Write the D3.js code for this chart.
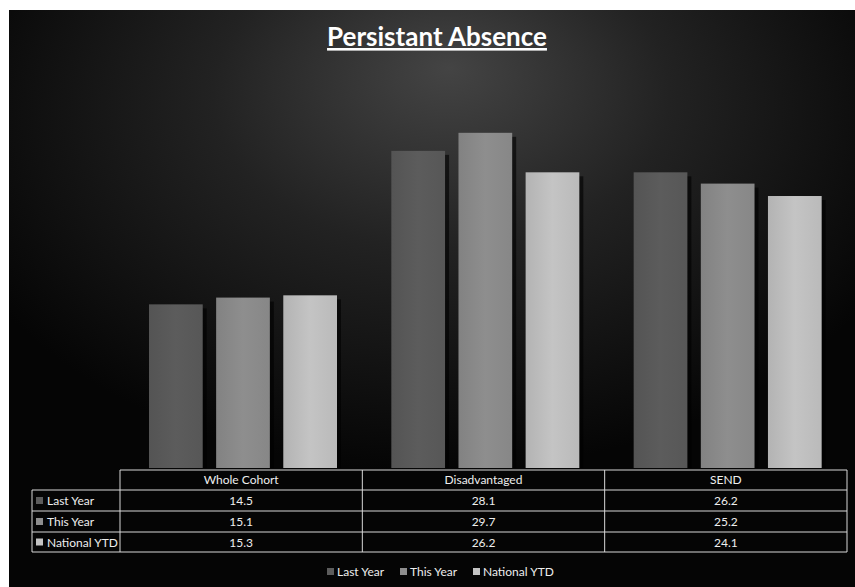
<!DOCTYPE html>
<html>
<head>
<meta charset="utf-8">
<script src="https://cdn.jsdelivr.net/npm/d3@7"></script>
<style>
  html, body { margin: 0; padding: 0; background: #fff; }
  svg { display: block; }
  text { font-family: Lato, "DejaVu Sans", sans-serif; }
</style>
</head>
<body>
<div id="chart"></div>
<script>
// chart data
var categories = ['Whole Cohort', 'Disadvantaged', 'SEND'];
var series = ['Last Year', 'This Year', 'National YTD'];
var lastYear = [14.5, 28.1, 26.2];
var thisYear = [15.1, 29.7, 25.2];
var nationalYTD = [15.3, 26.2, 24.1];
var yMax = 35;

var values = [lastYear, thisYear, nationalYTD];
var colors = ['#5c5c5c', '#8e8e8e', '#c4c4c4'];

var w = 855, h = 587;
var frame = {left: 9, top: 10};
var plot = {left: 121, right: 848, top: 73, bottom: 468};
var table = {left: 32, colLeft: 120, right: 847, top: 470, rowH: [20, 21, 21, 20]};

var svg = d3.select('#chart')
	.append('svg')
	.attr('width', w)
	.attr('height', h);

var defs = svg.append('defs');

// soft grey glow behind the title
var glow = defs.append('radialGradient')
	.attr('id', 'glow')
	.attr('cx', '50%').attr('cy', '20%')
	.attr('r', '60%')
	.attr('fx', '52%').attr('fy', '10%');
glow.append('stop').attr('offset', '0%').attr('stop-color', '#444');
glow.append('stop').attr('offset', '45%').attr('stop-color', '#222');
glow.append('stop').attr('offset', '100%').attr('stop-color', '#050505');

colors.forEach(function(c, i) {
	var g = defs.append('linearGradient')
		.attr('id', 'bar' + i)
		.attr('x1', '0%').attr('x2', '100%')
		.attr('y1', '0%').attr('y2', '0%');
	g.append('stop').attr('offset', '0%').attr('stop-color', d3.color(c).darker(0.25));
	g.append('stop').attr('offset', '50%').attr('stop-color', c);
	g.append('stop').attr('offset', '100%').attr('stop-color', d3.color(c).darker(0.15));
});

svg.append('rect')
	.attr('x', frame.left)
	.attr('y', frame.top)
	.attr('width', w - frame.left)
	.attr('height', h - frame.top)
	.attr('fill', '#000');

svg.append('rect')
	.attr('x', frame.left)
	.attr('y', frame.top)
	.attr('width', w - frame.left)
	.attr('height', h - frame.top)
	.attr('fill', 'url(#glow)');

// title
svg.append('text')
	.attr('x', 437)
	.attr('y', 46)
	.attr('text-anchor', 'middle')
	.attr('fill', '#fff')
	.style('font-size', '26px')
	.style('font-weight', 'bold')
	.style('text-decoration', 'underline')
	.text('Persistant Absence');

var x0 = d3.scaleBand()
	.domain(categories)
	.range([plot.left, plot.right]);

var x1 = d3.scaleBand()
	.domain(series)
	.range([28, 216])
	.paddingInner(0.2);

var y = d3.scaleLinear()
	.domain([0, yMax])
	.range([plot.bottom, plot.top]);

var rows = [];
series.forEach(function(s, i) {
	categories.forEach(function(c, j) {
		rows.push({series: s, si: i, cat: c, val: values[i][j]});
	});
});

// bar shadows
svg.append('g')
	.selectAll('rect')
	.data(rows)
	.enter()
	.append('rect')
	.attr('x', function(d) { return x0(d.cat) + x1(d.series) + 4; })
	.attr('y', function(d) { return y(d.val) + 4; })
	.attr('width', x1.bandwidth())
	.attr('height', function(d) { return plot.bottom - y(d.val) - 4; })
	.attr('fill', '#000')
	.attr('opacity', 0.6);

svg.append('g')
	.selectAll('rect')
	.data(rows)
	.enter()
	.append('rect')
	.attr('x', function(d) { return x0(d.cat) + x1(d.series); })
	.attr('y', function(d) { return y(d.val); })
	.attr('width', x1.bandwidth())
	.attr('height', function(d) { return plot.bottom - y(d.val); })
	.attr('fill', function(d) { return 'url(#bar' + d.si + ')'; });

// data table
var lineCol = '#d8d8d8';
var tg = svg.append('g').attr('class', 'datatable');
var rowY = [table.top];
table.rowH.forEach(function(rh, i) { rowY.push(rowY[i] + rh); });

// horizontal lines
rowY.forEach(function(yy, i) {
	tg.append('line')
		.attr('x1', i == 0 ? table.colLeft : table.left)
		.attr('x2', table.right)
		.attr('y1', yy).attr('y2', yy)
		.attr('stroke', lineCol).attr('stroke-width', 1);
});

// vertical lines
var colX = [table.colLeft].concat(categories.map(function(c) { return x0(c) + x0.bandwidth() - 1; }));
colX[colX.length - 1] = table.right;
colX.forEach(function(xx) {
	tg.append('line')
		.attr('x1', xx).attr('x2', xx)
		.attr('y1', rowY[0]).attr('y2', rowY[4])
		.attr('stroke', lineCol).attr('stroke-width', 1);
});
tg.append('line')
	.attr('x1', table.left).attr('x2', table.left)
	.attr('y1', rowY[1]).attr('y2', rowY[4])
	.attr('stroke', lineCol).attr('stroke-width', 1);

// header row
tg.selectAll('.colhead')
	.data(categories)
	.enter()
	.append('text')
	.attr('class', 'colhead')
	.attr('x', function(d) { return x0(d) + x0.bandwidth() / 2 - 1; })
	.attr('y', rowY[0] + 14)
	.attr('text-anchor', 'middle')
	.attr('fill', '#eee')
	.style('font-size', '12px')
	.text(function(d) { return d; });

// row headers with keys
series.forEach(function(s, i) {
	var cy = (rowY[i + 1] + rowY[i + 2]) / 2;
	tg.append('rect')
		.attr('x', 36).attr('y', cy - 3.5)
		.attr('width', 7).attr('height', 7)
		.attr('fill', colors[i]);
	tg.append('text')
		.attr('x', 47)
		.attr('y', cy + 4.5)
		.attr('fill', '#eee')
		.style('font-size', '12px')
		.text(s);
	categories.forEach(function(c, j) {
		tg.append('text')
			.attr('x', x0(c) + x0.bandwidth() / 2 - 1)
			.attr('y', cy + 4.5)
			.attr('text-anchor', 'middle')
			.attr('fill', '#eee')
			.style('font-size', '12px')
			.text(values[i][j]);
	});
});

// legend
var legendX = [327, 400, 473];
var lg = svg.append('g').attr('class', 'legend');
series.forEach(function(s, i) {
	lg.append('rect')
		.attr('x', legendX[i]).attr('y', 568)
		.attr('width', 7).attr('height', 7)
		.attr('fill', colors[i]);
	lg.append('text')
		.attr('x', legendX[i] + 10)
		.attr('y', 576)
		.attr('fill', '#eee')
		.style('font-size', '12px')
		.text(s);
});
</script>
</body>
</html>
